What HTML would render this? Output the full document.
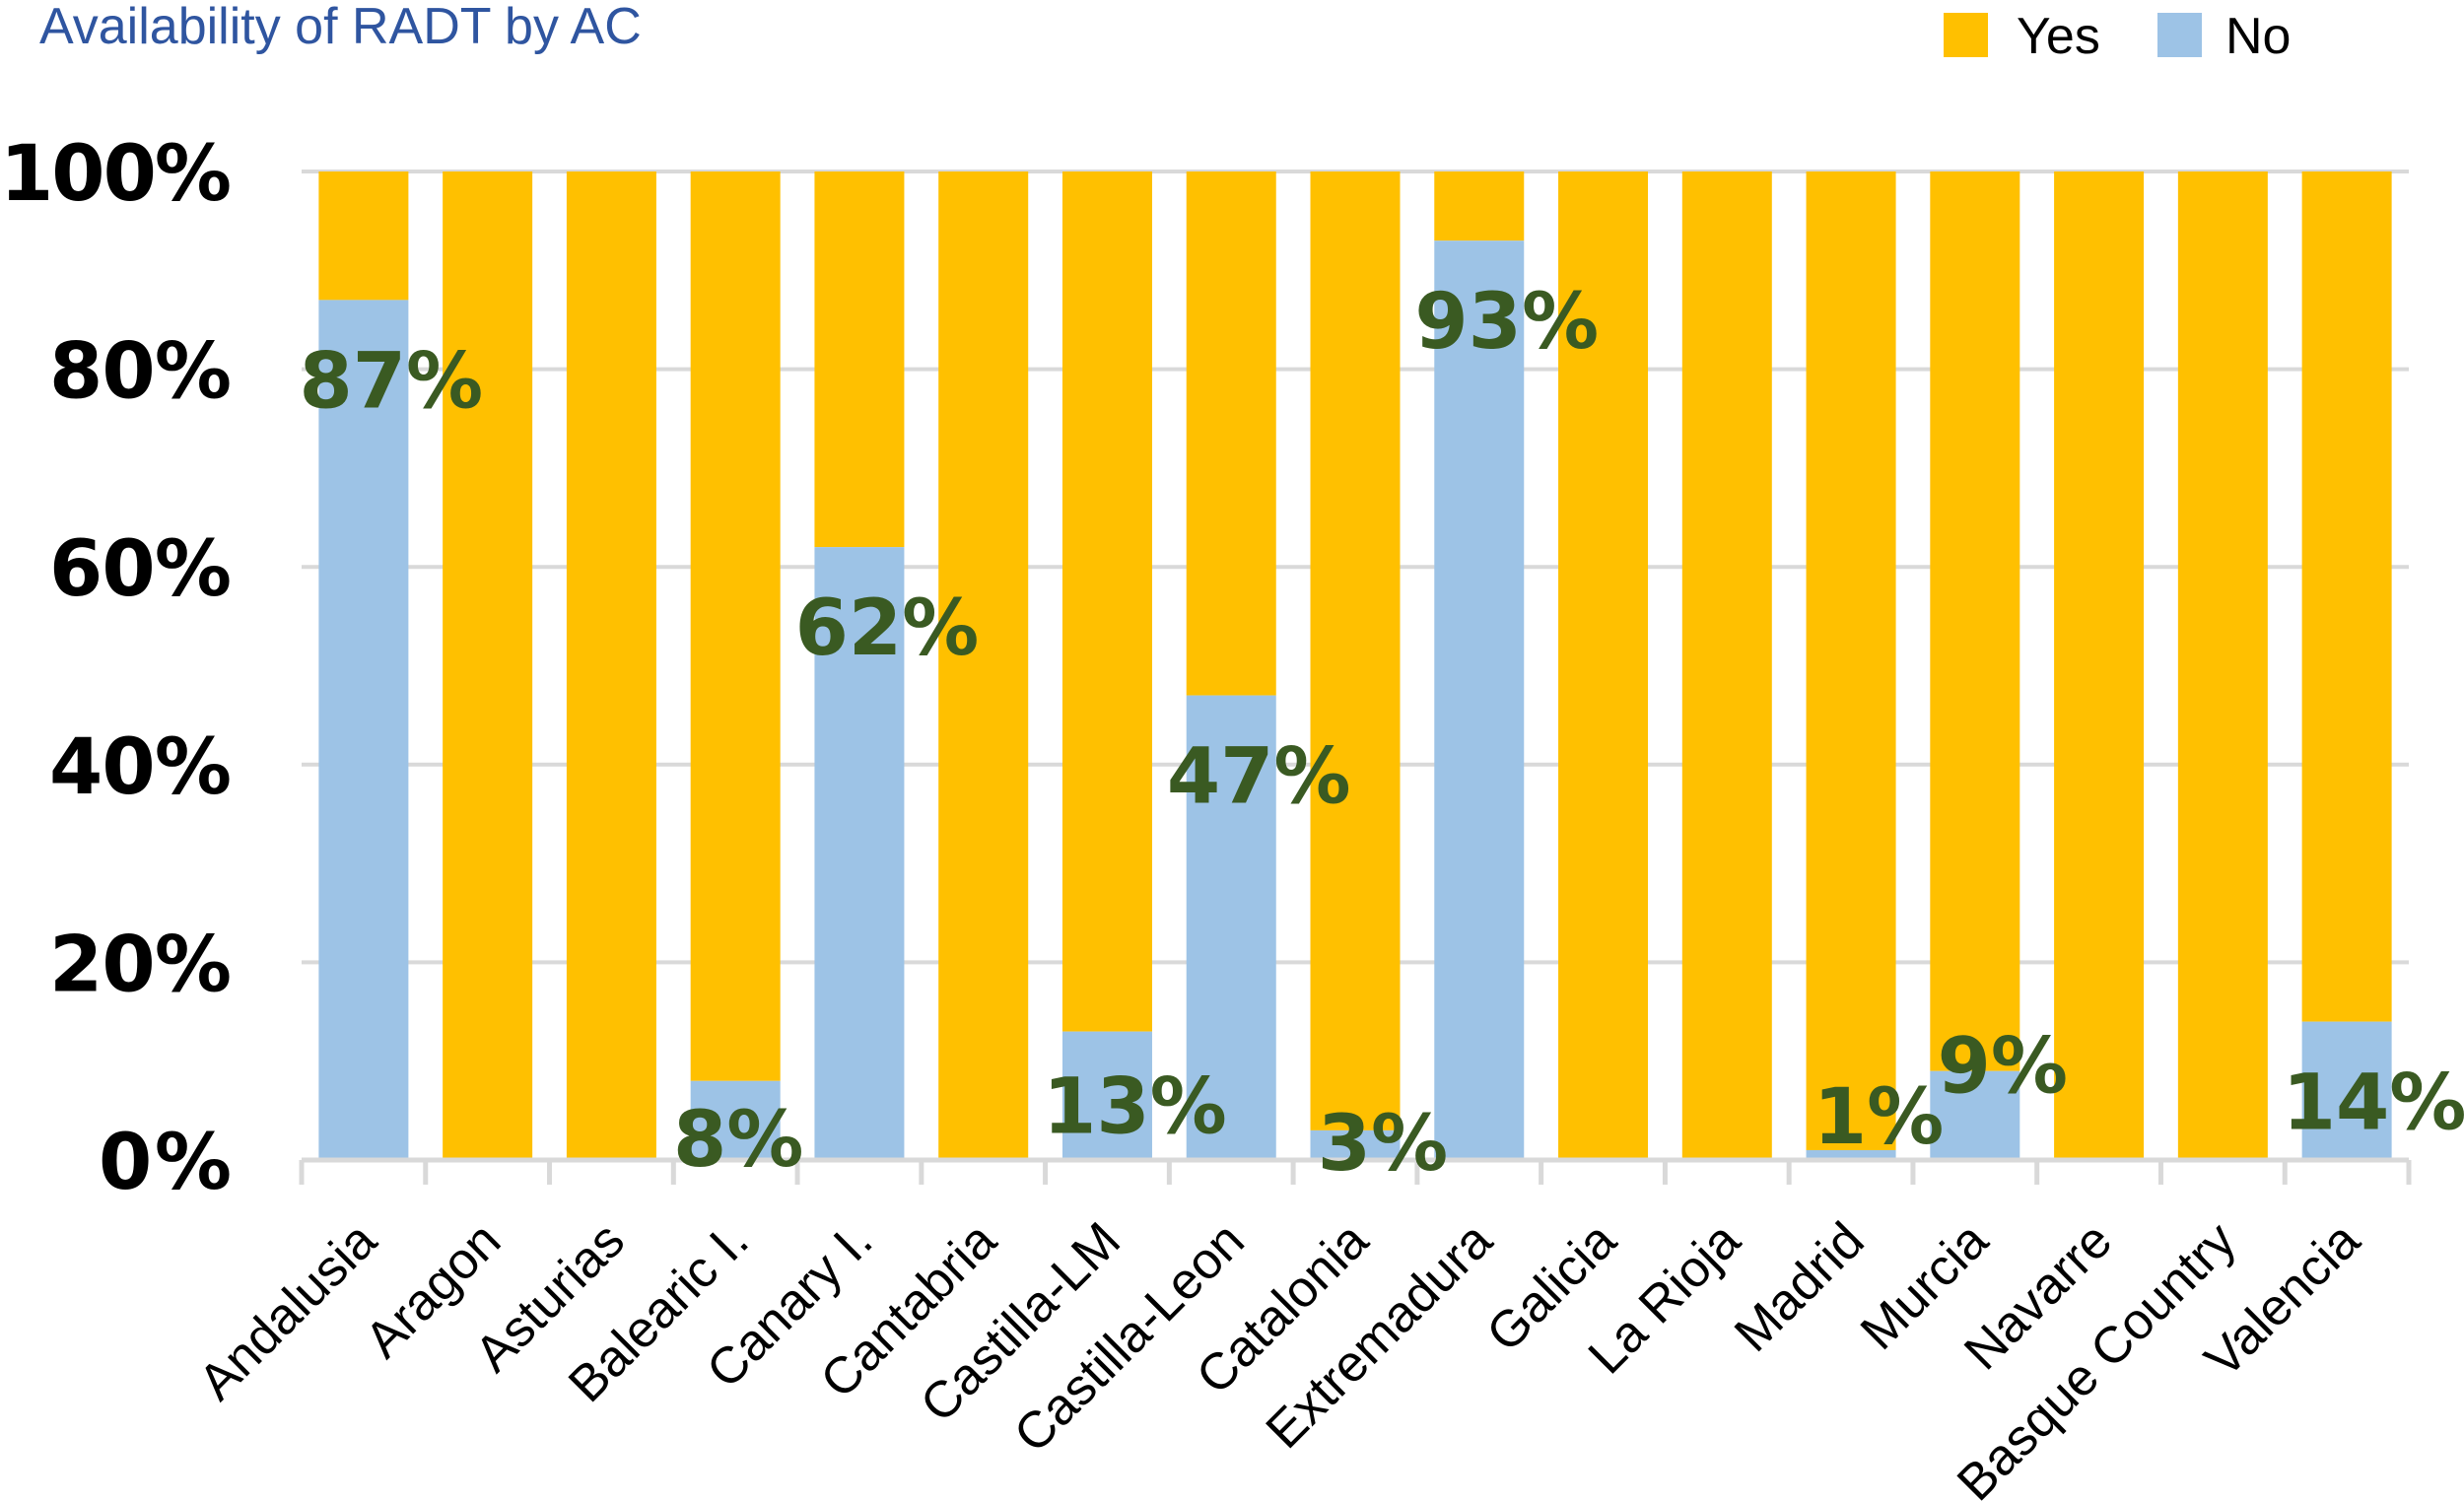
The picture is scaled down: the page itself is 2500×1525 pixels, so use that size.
<!DOCTYPE html>
<html><head><meta charset="utf-8">
<style>
html,body{margin:0;padding:0;background:#fff;}
body{width:2500px;height:1525px;overflow:hidden;}
svg{display:block;}
</style></head>
<body>
<svg id="chart" width="2500" height="1525" viewBox="0 0 2500 1525" xmlns="http://www.w3.org/2000/svg">
  <text x="40" y="44" font-family="Liberation Sans, Arial, sans-serif" font-size="52" fill="#2f55a0">Availability of RADT by AC</text>
  <g>
    <rect x="1972" y="13" width="45" height="45" fill="#ffc000"/>
    <text x="2046" y="54" font-family="Liberation Sans, Arial, sans-serif" font-size="52" fill="#000">Yes</text>
    <rect x="2189" y="13" width="45" height="45" fill="#9dc3e6"/>
    <text x="2258" y="54" font-family="Liberation Sans, Arial, sans-serif" font-size="52" fill="#000">No</text>
  </g>
  <g id="grid"></g>
  <g id="bars"></g>
  <g id="axes"></g>
  <g id="labels"></g>
</svg>
<script>
const categories = ["Andalusia","Aragon","Asturias","Balearic I.","Canary I.","Cantabria","Castilla-LM","Castilla-Leon","Catalonia","Extremadura","Galicia","La Rioja","Madrid","Murcia","Navarre","Basque Country","Valencia"];
const noValues = [87,0,0,8,62,0,13,47,3,93,0,0,1,9,0,0,14];
const yTicks = [0,20,40,60,80,100];
const yTickLabels = ["0%","20%","40%","60%","80%","100%"];
const labelNudge = [0,0,0,37,0,0,-6,0,0,0,0,0,-27,-27,0,0,0];
const labelShiftX = [0,0,0,-25,0,0,0,0,0,0,0,0,0,0,0,0,0];

const NS = "http://www.w3.org/2000/svg";
const X0 = 306, X1 = 2444, Y0 = 1177, Y100 = 174;
const slot = (X1 - X0) / categories.length;
const barW = 91;
function yScale(v){ return Y0 - (v/100) * (Y0 - Y100); }
function xCenter(i){ return X0 + slot * (i + 0.5); }
function mk(tag, attrs, parent){
  const e = document.createElementNS(NS, tag);
  for (const k in attrs) e.setAttribute(k, attrs[k]);
  parent.appendChild(e);
  return e;
}
const grid = document.getElementById('grid');
const bars = document.getElementById('bars');
const axes = document.getElementById('axes');
const labels = document.getElementById('labels');

yTicks.forEach((t, i) => {
  const y = yScale(t);
  if (t > 0) {
    const g = mk('line', {x1: X0, x2: X1, y1: y, y2: y, stroke: '#d9d9d9', 'stroke-width': 4}, grid);
    
    
  }
  const tl = mk('text', {x: 235, y: y + 29, 'text-anchor': 'end', 'font-family': 'DejaVu Sans, Verdana, sans-serif', 'font-weight': 'bold', 'font-size': 78, fill: '#000', 'textLength': (yTickLabels[i].length > 3 ? 235 : (yTickLabels[i].length > 2 ? 185 : 135))}, axes);
  tl.textContent = yTickLabels[i];
  
  
});

categories.forEach((c, i) => {
  const cx = xCenter(i);
  const bx = cx - barW / 2;
  const yes = mk('rect', {x: bx, y: Y100, width: barW, height: yScale(noValues[i]) - Y100, fill: '#ffc000'}, bars);
  
  
  if (noValues[i] > 0) {
    const no = mk('rect', {x: bx, y: yScale(noValues[i]), width: barW, height: Y0 - yScale(noValues[i]), fill: '#9dc3e6'}, bars);
    
    
    let ly = yScale(noValues[i]) + 80;
    if (ly > 1158) ly = Math.min(1158, yScale(noValues[i]) + 20);
    if (noValues[i] < 10 && yScale(noValues[i]) + 80 > 1158) ly = Math.max(ly, 1100);
    ly += labelNudge[i];
    const lb = mk('text', {x: cx + 28 + labelShiftX[i], y: ly + 29, 'text-anchor': 'middle', 'font-family': 'DejaVu Sans, Verdana, sans-serif', 'font-weight': 'bold', 'font-size': 78, fill: '#3a5a22'}, labels);
    lb.textContent = noValues[i] + '%';
    
    
  }
  const xl = mk('text', {transform: 'translate(' + (cx + 16) + ',1262) rotate(-45)', 'text-anchor': 'end', 'font-family': 'Liberation Sans, Arial, sans-serif', 'font-size': 52, fill: '#000'}, axes);
  xl.textContent = c;
  
  
});

const ax = mk('line', {x1: X0, x2: X1, y1: Y0, y2: Y0, stroke: '#d9d9d9', 'stroke-width': 5}, axes);


for (let i = 0; i <= categories.length; i++) {
  const x = X0 + slot * i;
  const tk = mk('line', {x1: x, x2: x, y1: Y0, y2: Y0 + 25, stroke: '#d9d9d9', 'stroke-width': 5}, axes);
  
  
}
</script>
</body></html>
